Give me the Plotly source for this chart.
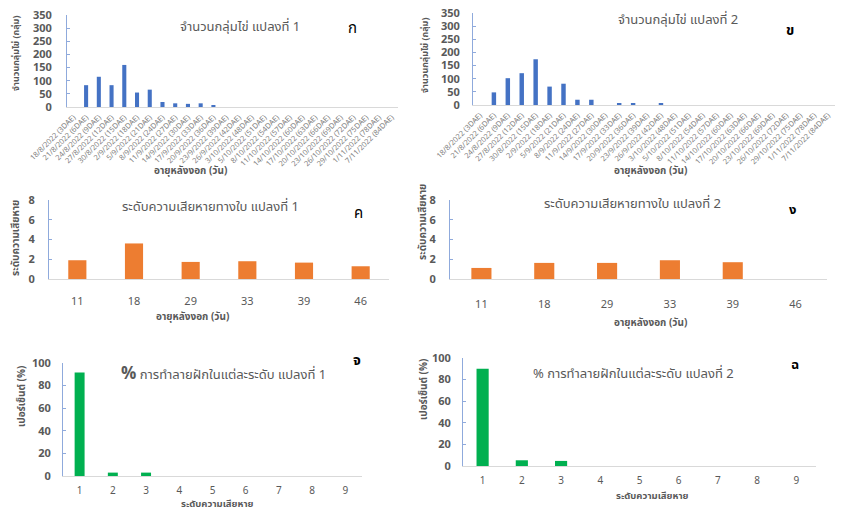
import plotly.graph_objects as go

W, H = 841, 510

dates = ["18/8/2022 (3DAE)", "21/8/2022 (6DAE)", "24/8/2022 (9DAE)", "27/8/2022 (12DAE)",
         "30/8/2022 (15DAE)", "2/9/2022 (18DAE)", "5/9/2022 (21DAE)", "8/9/2022 (24DAE)",
         "11/9/2022 (27DAE)", "14/9/2022 (30DAE)", "17/9/2022 (33DAE)", "20/9/2022 (36DAE)",
         "23/9/2022 (39DAE)", "26/9/2022 (42DAE)", "3/10/2022 (48DAE)", "5/10/2022 (51DAE)",
         "8/10/2022 (54DAE)", "11/10/2022 (57DAE)", "14/10/2022 (60DAE)", "17/10/2022 (63DAE)",
         "20/10/2022 (66DAE)", "23/10/2022 (69DAE)", "26/10/2022 (72DAE)", "29/10/2022 (75DAE)",
         "1/11/2022 (78DAE)", "7/11/2022 (84DAE)"]
eggs_plot1 = [0, 83, 115, 83, 160, 55, 66, 19, 14, 12, 14, 4, 0, 0, 0, 0, 0, 0, 0, 0, 0, 0, 0, 0, 0, 0]
eggs_plot2 = [0, 48, 102, 121, 174, 70, 81, 20, 20, 0, 5, 5, 0, 5, 0, 0, 0, 0, 0, 0, 0, 0, 0, 0, 0, 0]

leaf_days = ["11", "18", "29", "33", "39", "46"]
leaf_plot1 = [1.9, 3.6, 1.73, 1.8, 1.66, 1.29]
leaf_plot2 = [1.12, 1.63, 1.63, 1.9, 1.7, 0]

levels = ["1", "2", "3", "4", "5", "6", "7", "8", "9"]
pod_plot1 = [91.7, 3, 3, 0, 0, 0, 0, 0, 0]
pod_plot2 = [90, 5.3, 4.7, 0, 0, 0, 0, 0, 0]

FONT = "Noto Sans Thai, Noto Sans, Leelawadee UI, sans-serif"
GRAY = "#595959"
BLUE = "#4472C4"
ORANGE = "#ED7D31"
GREEN = "#00B050"
YLINE = "#8FAADC"
XLINE = "#D9D9D9"

def xd(a, b):
    return [a / W, b / W]

def yd(top, bottom):
    return [1 - bottom / H, 1 - top / H]

panels = [
    dict(x=(67, 398), y=(15, 107), cats=dates, vals=eggs_plot1, color=BLUE, yr=350, dt=50, w=0.32, ys=12, xs=2, ang=-45, xf=7.5),
    dict(x=(473, 835), y=(13, 105), cats=dates, vals=eggs_plot2, color=BLUE, yr=350, dt=50, w=0.32, ys=10, xs=2, ang=-45, xf=7.5),
    dict(x=(49, 389), y=(200, 279), cats=leaf_days, vals=leaf_plot1, color=ORANGE, yr=8, dt=2, w=0.32, ys=11, xs=12, ang=0, xf=11),
    dict(x=(450, 827), y=(200, 279), cats=leaf_days, vals=leaf_plot2, color=ORANGE, yr=8, dt=2, w=0.32, ys=11, xs=15, ang=0, xf=11),
    dict(x=(63, 362), y=(363, 476), cats=levels, vals=pod_plot1, color=GREEN, yr=100, dt=20, w=0.30, ys=9, xs=5, ang=0, xf=10),
    dict(x=(463, 816), y=(358, 466), cats=levels, vals=pod_plot2, color=GREEN, yr=100, dt=20, w=0.31, ys=9, xs=5, ang=0, xf=10),
]

fig = go.Figure()
layout = dict(template="none", width=W, height=H, margin=dict(l=0, r=0, t=0, b=0, autoexpand=False),
              paper_bgcolor="white", plot_bgcolor="white", showlegend=False,
              font=dict(family=FONT, color=GRAY))

for i, p in enumerate(panels, start=1):
    sfx = "" if i == 1 else str(i)
    fig.add_trace(go.Bar(x=p["cats"], y=p["vals"], marker=dict(color=p["color"], line=dict(width=0)),
                         width=p["w"], xaxis="x" + sfx, yaxis="y" + sfx, hoverinfo="x+y"))
    layout["xaxis" + sfx] = dict(domain=xd(*p["x"]), anchor="y" + sfx, type="category",
                                 showline=True, linecolor=XLINE, linewidth=1, showgrid=False,
                                 zeroline=False, ticks="", tickangle=p["ang"], automargin=False,
                                 tickfont=dict(size=p["xf"], color="#7F7F7F" if p["ang"] else GRAY, family=FONT),
                                 ticklabelstandoff=p["xs"], fixedrange=True,
                                 categoryorder="array", categoryarray=p["cats"])
    layout["yaxis" + sfx] = dict(domain=yd(*p["y"]), anchor="x" + sfx, range=[0, p["yr"]], dtick=p["dt"],
                                 showline=True, linecolor=YLINE, linewidth=1, showgrid=False,
                                 zeroline=False, ticks="inside", ticklen=3, tickcolor=YLINE, automargin=False,
                                 tickfont=dict(size=11, color=GRAY, family=FONT, weight="bold"),
                                 ticklabelstandoff=p["ys"], fixedrange=True)

fig.update_layout(**layout)

def ann(text, px, py, size, color=GRAY, bold=False, angle=0):
    fig.add_annotation(text=("<b>%s</b>" % text) if bold else text, x=px / W, y=1 - py / H,
                       xref="paper", yref="paper", xanchor="center", yanchor="middle",
                       showarrow=False, textangle=angle,
                       font=dict(size=size, color=color, family=FONT))

# Titles
ann("จำนวนกลุ่มไข่ แปลงที่ 1", 240, 27, 13)
ann("จำนวนกลุ่มไข่ แปลงที่ 2", 678, 20, 13)
ann("ระดับความเสียหายทางใบ แปลงที่ 1", 211, 207, 13)
ann("ระดับความเสียหายทางใบ แปลงที่ 2", 632, 204, 13)
ann("<span style='font-size:17px'><b>%</b></span> การทำลายฝักในแต่ละระดับ แปลงที่ 1", 223, 374, 13)
ann("% การทำลายฝักในแต่ละระดับ แปลงที่ 2", 633, 374, 13)

# Panel letters
ann("ก", 352, 28, 15, color="#000000")
ann("ข", 790, 30, 14, color="#000000", bold=True)
ann("ค", 358, 213, 15, color="#000000")
ann("ง", 792, 210, 13, color="#000000", bold=True)
ann("จ", 357, 360, 14, color="#000000", bold=True)
ann("ฉ", 795, 365, 13, color="#000000", bold=True)

# Y-axis titles
ann("จำนวนกลุ่มไข่ (กลุ่ม)", 16, 54, 9, bold=True, angle=-90)
ann("จำนวนกลุ่มไข่ (กลุ่ม)", 425, 55, 9, bold=True, angle=-90)
ann("ระดับความเสียหาย", 16, 238, 10, bold=True, angle=-90)
ann("ระดับความเสียหาย", 423, 222, 10, bold=True, angle=-90)
ann("เปอร์เซ็นต์ (%)", 22, 397, 10, bold=True, angle=-90)
ann("เปอร์เซ็นต์ (%)", 424, 390, 10, bold=True, angle=-90)

# X-axis titles
ann("อายุหลังงอก (วัน)", 190, 171, 10, bold=True)
ann("อายุหลังงอก (วัน)", 650, 171, 10, bold=True)
ann("อายุหลังงอก (วัน)", 192, 317, 10, bold=True)
ann("อายุหลังงอก (วัน)", 650, 323, 10, bold=True)
ann("ระดับความเสียหาย", 217, 504, 9.5, bold=True)
ann("ระดับความเสียหาย", 652, 496, 9.5, bold=True)

fig.write_html("out.html")
